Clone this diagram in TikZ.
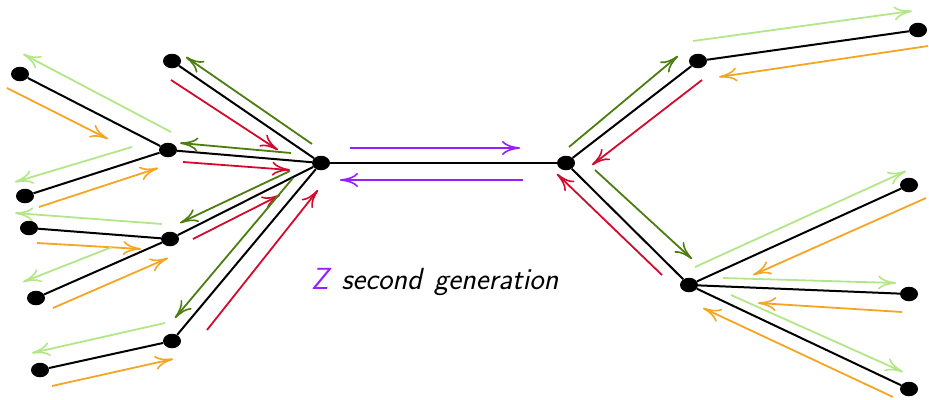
\documentclass[tikz,border=0pt]{standalone}
\usetikzlibrary{shapes.geometric,arrows.meta}
\definecolor{zpurple}{RGB}{150,30,255}
\definecolor{dgreen}{RGB}{75,125,15}
\definecolor{lgreen}{RGB}{178,230,135}
\definecolor{dred}{RGB}{212,10,45}
\definecolor{orng}{RGB}{245,165,35}
\tikzset{
  dot/.style={ellipse,fill=black,inner sep=0pt,minimum width=18pt,minimum height=14.5pt},
  edge/.style={black,line width=2pt},
  flow/.style={line width=1.8pt,-{Computer Modern Rightarrow[length=18pt,width=14pt,line width=1.6pt]}},
}
\begin{document}
\begin{tikzpicture}[x=1pt,y=-1pt]
\useasboundingbox (0,0) rectangle (929,399);
% hubs
\node[dot] (L) at (321,163) {};
\node[dot] (R) at (566,163) {};
% left branches
\node[dot] (A1) at (172,61) {};
\node[dot] (B) at (168,150) {};
\node[dot] (B1) at (20,74) {};
\node[dot] (B2) at (25,196) {};
\node[dot] (C) at (170,239) {};
\node[dot] (C1) at (29,228) {};
\node[dot] (C2) at (36,298) {};
\node[dot] (D) at (172,341) {};
\node[dot] (D1) at (40,370) {};
% right branches
\node[dot] (E) at (698,61) {};
\node[dot] (E1) at (918,30) {};
\node[dot] (F) at (689,285) {};
\node[dot] (F1) at (909,185) {};
\node[dot] (F2) at (909,294) {};
\node[dot] (F3) at (909,389) {};
% tree edges
\draw[edge] (L) -- (R);
\draw[edge] (L) -- (A1);
\draw[edge] (L) -- (B);
\draw[edge] (L) -- (C);
\draw[edge] (L) -- (D);
\draw[edge] (B) -- (B1);
\draw[edge] (B) -- (B2);
\draw[edge] (C) -- (C1);
\draw[edge] (C) -- (C2);
\draw[edge] (D) -- (D1);
\draw[edge] (R) -- (E);
\draw[edge] (R) -- (F);
\draw[edge] (E) -- (E1);
\draw[edge] (F) -- (F1);
\draw[edge] (F) -- (F2);
\draw[edge] (F) -- (F3);
% Z exchange between the hubs
\draw[flow,zpurple] (350,148) -- (520,148);
\draw[flow,zpurple] (523,180) -- (340,180);
% first generation, left
\draw[flow,dgreen] (312,144) -- (186,57);
\draw[flow,dred] (171,80) -- (278,150);
\draw[flow,dgreen] (291,153) -- (180,143);
\draw[flow,dred] (183,162) -- (290,170);
\draw[flow,dgreen] (290,171) -- (180,223);
\draw[flow,dred] (193,239) -- (280,195);
\draw[flow,dgreen] (293,178) -- (175,318);
\draw[flow,dred] (207,330) -- (318,190);
% first generation, right
\draw[flow,dgreen] (569,147) -- (678,56);
\draw[flow,dred] (702,80) -- (592,165);
\draw[flow,dgreen] (595,170) -- (692,259);
\draw[flow,dred] (662,275) -- (557,174);
% second generation, left
\draw[flow,lgreen] (171,132) -- (23,54);
\draw[flow,orng] (7,88) -- (108,139);
\draw[flow,lgreen] (132,147) -- (15,182);
\draw[flow,orng] (39,207) -- (158,168);
\draw[flow,lgreen] (162,224) -- (15,213);
\draw[flow,orng] (37,243) -- (141,249);
\draw[flow,lgreen] (112,247) -- (23,282);
\draw[flow,orng] (53,308) -- (168,258);
\draw[flow,lgreen] (165,323) -- (32,353);
\draw[flow,orng] (52,386) -- (173,359);
% second generation, right
\draw[flow,lgreen] (693,41) -- (912,11);
\draw[flow,orng] (928,46) -- (719,77);
\draw[flow,lgreen] (695,267) -- (906,171);
\draw[flow,orng] (926,198) -- (753,275);
\draw[flow,lgreen] (723,278) -- (896,283);
\draw[flow,orng] (902,312) -- (758,303);
\draw[flow,lgreen] (731,295) -- (903,372);
\draw[flow,orng] (893,397) -- (703,308);
% caption
\node[anchor=west,inner sep=0pt] (cap) at (311,282)
  {\fontsize{30.5}{36}\selectfont\sffamily\itshape\textcolor{zpurple}{Z}\hspace{0.42em}second\hspace{0.4em}generation};
\end{tikzpicture}
\end{document}
